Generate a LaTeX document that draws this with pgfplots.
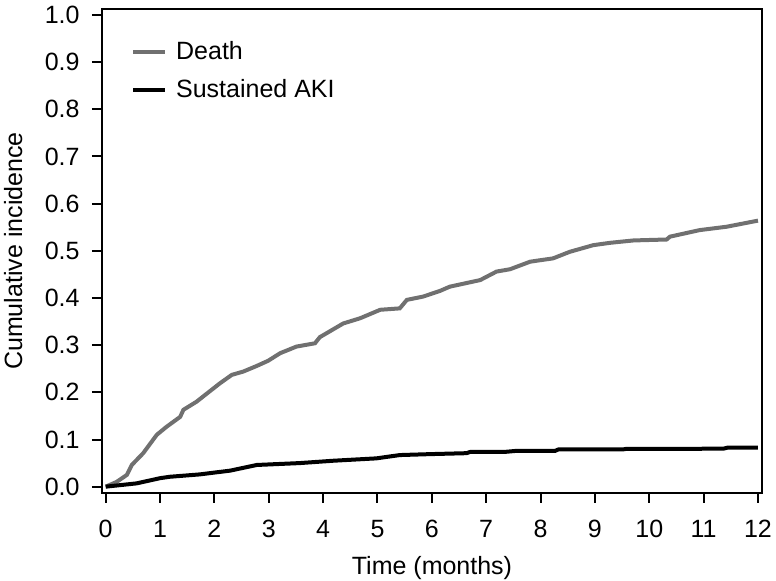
\documentclass[border=0pt]{standalone}
\usepackage{fontspec}
\setmainfont{Liberation Sans}
\usepackage{pgfplots}
\pgfplotsset{compat=1.18}
\definecolor{deathgray}{RGB}{112,112,112}
\newcommand\ff{\fontsize{12.5pt}{15pt}\selectfont}
\begin{document}
\begin{tikzpicture}
\useasboundingbox (-51pt,-44pt) rectangle (337pt,246.5pt);
\begin{axis}[
  name=main,
  at={(0pt,0pt)}, anchor=south west,
  scale only axis, width=330pt, height=242pt,
  clip=false,
  xmin=-0.068, xmax=12.074, ymin=-0.0134, ymax=1.0127,
  xtick={0,1,...,12},
  ytick={0,0.1,...,1.0},
  yticklabel style={/pgf/number format/fixed, /pgf/number format/fixed zerofill, /pgf/number format/precision=1},
  /pgf/number format/assume math mode=true,
  tick align=outside, major tick length=5pt,
  tick style={black, line width=1pt},
  axis line style={line width=1.2pt},
  tick pos=left,
  tick label style={font=\ff},
  label style={font=\ff},
  xticklabel style={inner sep=0pt, anchor=north, yshift=-8.5pt},
  yticklabel style={inner sep=0pt, anchor=east, xshift=-6pt},
  xlabel={Time (months)},
  ylabel={Cumulative incidence},
  xlabel style={at={(axis description cs:0.5,-0.1674)}, anchor=base},
  ylabel style={at={(axis description cs:-0.1212,0.5)}, anchor=base},
  legend image code/.code={\draw[#1] (0pt,0pt) -- (16pt,0pt);},
  legend cell align=left,
  legend style={draw=none, fill=none, font=\ff, at={(axis description cs:0.0436,0.944)}, anchor=north west,
    row sep=3pt, column sep=2.5pt, inner sep=0pt,
    nodes={text height=9.5pt, text depth=2.5pt, inner sep=2pt}},
]
\addplot[deathgray, line width=2pt] coordinates {
(0,0) (0.2,0.01) (0.39,0.025) (0.48,0.046) (0.69,0.071) (0.94,0.11) (1.12,0.127) (1.37,0.148) (1.43,0.163) (1.67,0.18) (1.89,0.20) (2.10,0.219) (2.32,0.237) (2.53,0.244) (2.78,0.256) (2.99,0.267) (3.21,0.283) (3.51,0.297) (3.85,0.304) (3.94,0.317) (4.37,0.346) (4.68,0.357) (5.05,0.375) (5.41,0.378) (5.54,0.396) (5.84,0.403) (6.15,0.415) (6.33,0.424) (6.89,0.438) (7.19,0.456) (7.44,0.461) (7.81,0.477) (8.23,0.484) (8.54,0.498) (8.97,0.512) (9.28,0.517) (9.71,0.522) (10.32,0.524) (10.38,0.530) (10.93,0.544) (11.42,0.551) (12.0,0.564)
};
\addlegendentry{Death}
\addplot[black, line width=2pt] coordinates {
(0,0) (0.57,0.007) (1.0,0.018) (1.18,0.021) (1.73,0.026) (2.29,0.034) (2.78,0.046) (3.57,0.05) (4.19,0.055) (4.98,0.060) (5.41,0.067) (5.97,0.069) (6.64,0.071) (6.70,0.0735) (7.37,0.074) (7.56,0.076) (8.27,0.076) (8.33,0.079) (9.52,0.079) (9.57,0.080) (11.36,0.0805) (11.45,0.083) (12.0,0.083)
};
\addlegendentry{Sustained AKI}
\end{axis}
\draw[line width=1.4pt, black] (main.north west) -- (main.north east) -- (main.south east);
\end{tikzpicture}
\end{document}
